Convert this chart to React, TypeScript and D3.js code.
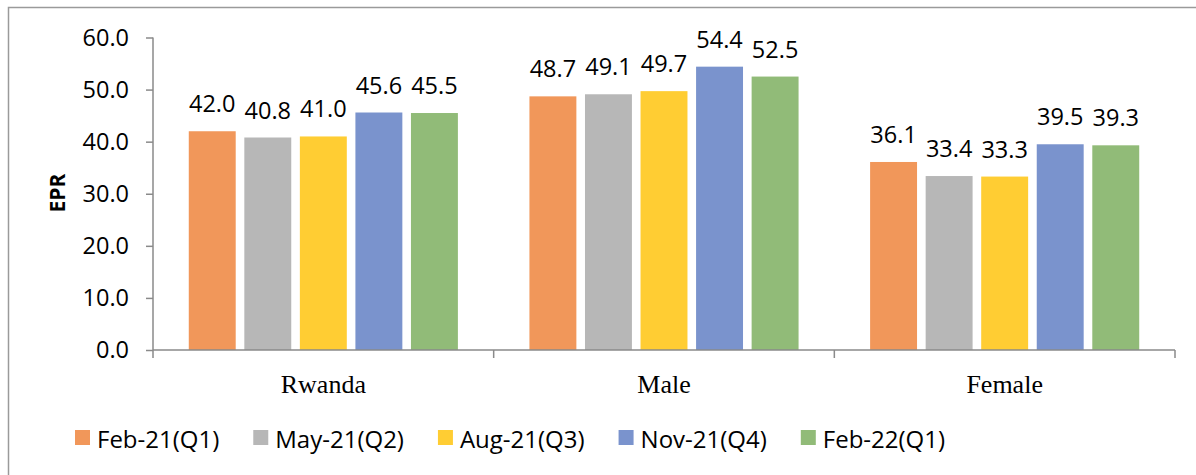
import React, { useEffect, useRef } from "react";
import * as d3 from "d3";

const categories = ["Rwanda", "Male", "Female"];
const seriesNames = ["Feb-21(Q1)", "May-21(Q2)", "Aug-21(Q3)", "Nov-21(Q4)", "Feb-22(Q1)"];
const feb21 = [42.0, 48.7, 36.1];
const may21 = [40.8, 49.1, 33.4];
const aug21 = [41.0, 49.7, 33.3];
const nov21 = [45.6, 54.4, 39.5];
const feb22 = [45.5, 52.5, 39.3];
const seriesValues = [feb21, may21, aug21, nov21, feb22];
const seriesColors = ["#F1975A", "#B7B7B7", "#FFCD33", "#7A93CD", "#91BB78"];
const yTicks = [0, 10, 20, 30, 40, 50, 60];
const yTitle = "EPR";

const W = 1196;
const H = 475;
const SANS = "'Open Sans', sans-serif";
const SERIF = "'Liberation Serif', serif";
const AXIS = "#8A8A8A";
const FS = 23.5;
const LFS = 24;

export default function App() {
  const ref = useRef<SVGSVGElement | null>(null);

  useEffect(() => {
    const svg = d3.select(ref.current);
    svg.selectAll("*").remove();

    // outer border (extends beyond right and bottom)
    svg.append("rect")
      .attr("x", 8.5).attr("y", 7.5)
      .attr("width", W + 20).attr("height", H + 20)
      .attr("fill", "#fff").attr("stroke", "#9A9A9A").attr("stroke-width", 1.5);

    const x0 = d3.scaleBand<string>().domain(categories).range([153, 1175]);
    const x1 = d3.scaleBand<string>().domain(seriesNames)
      .range([0, x0.bandwidth()]).paddingInner(0.155).paddingOuter(0.644);
    const y = d3.scaleLinear().domain([0, 60]).range([350, 37.5]);

    // bars
    const g = svg.append("g");
    seriesValues.forEach((vals, si) => {
      const name = seriesNames[si];
      g.selectAll(null).data(vals).enter().append("rect")
        .attr("x", (_d, i) => (x0(categories[i]) as number) + (x1(name) as number))
        .attr("y", (d) => y(d))
        .attr("width", x1.bandwidth())
        .attr("height", (d) => y(0) - y(d))
        .attr("fill", seriesColors[si]);
      g.selectAll(null).data(vals).enter().append("text")
        .attr("x", (_d, i) => (x0(categories[i]) as number) + (x1(name) as number) + x1.bandwidth() / 2)
        .attr("y", (d) => y(d) - 19)
        .attr("text-anchor", "middle")
        .attr("font-family", SANS).attr("font-size", FS).attr("fill", "#000")
        .text((d) => d3.format(".1f")(d));
    });

    // y axis
    const ya = svg.append("g").attr("transform", "translate(153,0)")
      .call(d3.axisLeft(y).tickValues(yTicks).tickFormat(d3.format(".1f") as any)
        .tickSize(7).tickSizeOuter(0).tickPadding(17));
    ya.attr("font-family", SANS).attr("font-size", FS);
    ya.selectAll("text").attr("fill", "#000");
    ya.selectAll("line").attr("stroke", AXIS).attr("stroke-width", 1.5);
    ya.select(".domain").attr("stroke", AXIS).attr("stroke-width", 1.5)
      .attr("d", `M0,${y(60)}V${y(0) + 8}`);

    // x axis
    const xa = svg.append("g");
    xa.append("line").attr("x1", 153).attr("x2", 1175).attr("y1", y(0)).attr("y2", y(0))
      .attr("stroke", AXIS).attr("stroke-width", 1.5);
    const bounds = categories.map((c) => x0(c) as number).concat([(x0(categories[categories.length - 1]) as number) + x0.bandwidth()]);
    xa.selectAll(null).data(bounds.slice(1)).enter().append("line")
      .attr("x1", (d) => d).attr("x2", (d) => d)
      .attr("y1", y(0)).attr("y2", y(0) + 8)
      .attr("stroke", AXIS).attr("stroke-width", 1.5);
    xa.selectAll(null).data(categories).enter().append("text")
      .attr("x", (d) => (x0(d) as number) + x0.bandwidth() / 2)
      .attr("y", 393)
      .attr("text-anchor", "middle")
      .attr("font-family", SERIF).attr("font-size", 26).attr("fill", "#000")
      .text((d) => d);

    // y title
    svg.append("text")
      .attr("transform", "translate(65,193) rotate(-90)")
      .attr("text-anchor", "middle")
      .attr("font-family", SANS).attr("font-size", 21).attr("font-weight", "bold")
      .attr("fill", "#000")
      .text(yTitle);

    // legend
    const lg = svg.append("g");
    let lx = 75;
    seriesNames.forEach((name, i) => {
      lg.append("rect").attr("x", lx).attr("y", 430).attr("width", 15).attr("height", 15)
        .attr("fill", seriesColors[i]);
      const t = lg.append("text").attr("x", lx + 22).attr("y", 438)
        .attr("dominant-baseline", "central")
        .attr("font-family", SANS).attr("font-size", LFS).attr("fill", "#000")
        .text(name);
      const tw = (t.node() as SVGTextElement).getComputedTextLength();
      lx += 22 + tw + 34;
    });
  }, []);

  return (
    <svg
      ref={ref}
      width={W}
      height={H}
      style={{ position: "fixed", left: 0, top: 0, background: "#fff" }}
    />
  );
}
